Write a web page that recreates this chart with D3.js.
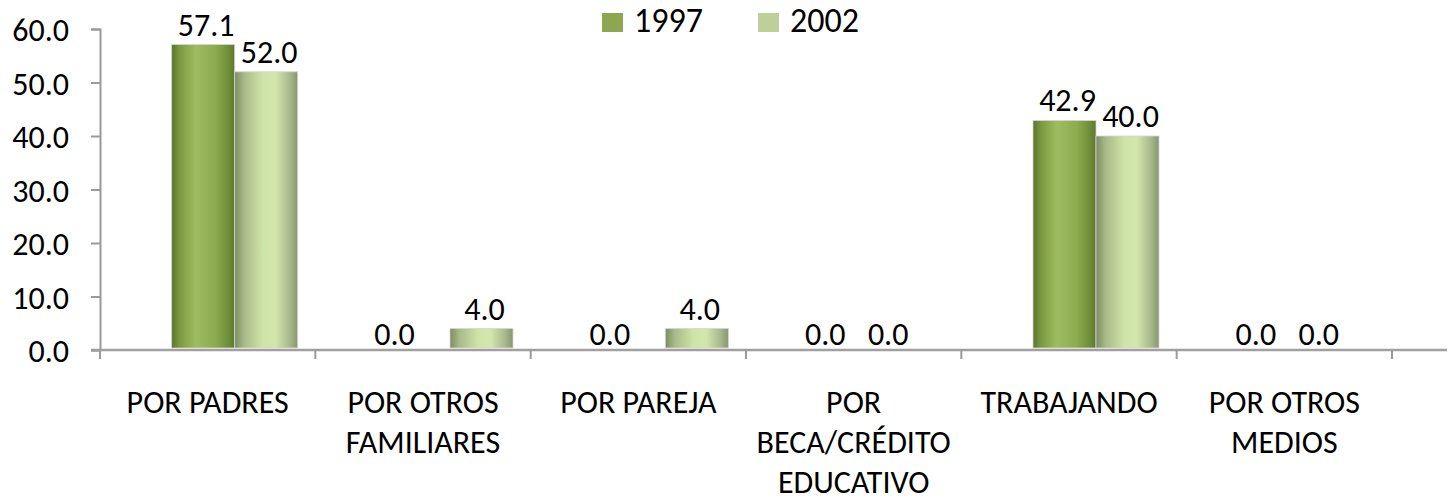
<!DOCTYPE html>
<html>
<head>
<meta charset="utf-8">
<script src="https://cdn.jsdelivr.net/npm/d3@7"></script>
<style>
    body { margin: 0; background: #fff; }
    text { font-family: Carlito, Calibri, Lato, sans-serif; fill: #000; }
</style>
</head>
<body>
<figure id="chart" style="margin:0"></figure>
<script>
// data
var categories = ["POR PADRES", "POR OTROS FAMILIARES", "POR PAREJA",
    "POR BECA/CRÉDITO EDUCATIVO", "TRABAJANDO", "POR OTROS MEDIOS"];
var series = ["1997", "2002"];
var values1997 = [57.1, 0.0, 0.0, 0.0, 42.9, 0.0];
var values2002 = [52.0, 4.0, 4.0, 0.0, 40.0, 0.0];
var yTicks = [0, 10, 20, 30, 40, 50, 60];

let dimensions = {
    width: 1450,
    height: 502,
    margin: { top: 29, right: 58, bottom: 152, left: 100 },
};
dimensions.boundedWidth = dimensions.width - dimensions.margin.left - dimensions.margin.right;
dimensions.boundedHeight = dimensions.height - dimensions.margin.top - dimensions.margin.bottom;

var fontSize = "32px";

var svg = d3.select("figure#chart")
    .append("svg")
    .attr("width", dimensions.width)
    .attr("height", dimensions.height);

var defs = svg.append("defs");
var gradStops = {
    "1997": [["0%", "#5a752a"], ["12%", "#7a9840"], ["38%", "#9fbc60"], ["70%", "#8cab4e"], ["92%", "#6c8a34"], ["100%", "#5d772e"]],
    "2002": [["0%", "#7c8d62"], ["15%", "#a8ba88"], ["45%", "#cfe4a8"], ["65%", "#d2e6ad"], ["88%", "#a6b78a"], ["100%", "#87956c"]]
};
series.forEach(function(s) {
    var g = defs.append("linearGradient")
        .attr("id", "grad" + s)
        .attr("x1", "0%").attr("x2", "100%").attr("y1", "0%").attr("y2", "0%");
    gradStops[s].forEach(function(st) {
        g.append("stop").attr("offset", st[0]).attr("stop-color", st[1]);
    });
});

var legendColor = { "1997": "#8da650", "2002": "#bdd09a" };

var xScale = d3.scaleBand()
    .domain(categories)
    .range([dimensions.margin.left, dimensions.margin.left + 1292])
    .padding(0);

// bars sit a bit right of the category centre (3d floor)
var groupWidth = 126;
var groupShift = xScale.bandwidth() / 2 - 36;
var xSub = d3.scaleBand()
    .domain(series)
    .range([0, groupWidth]);

var yScale = d3.scaleLinear()
    .domain([0, 60])
    .range([dimensions.margin.top + dimensions.boundedHeight, dimensions.margin.top]);

var data = categories.map(function(c, i) {
    return { cat: c, vals: [
        { s: "1997", v: values1997[i] },
        { s: "2002", v: values2002[i] }
    ]};
});

// y axis
var yAxis = svg.append("g")
    .attr("class", "y axis")
    .attr("transform", `translate(${dimensions.margin.left},0)`)
    .call(d3.axisLeft(yScale).tickValues(yTicks).tickSize(9).tickPadding(22).tickFormat(d3.format(".1f")));
yAxis.select(".domain").attr("stroke", "#9a9a9a").attr("stroke-width", 2);
yAxis.selectAll(".tick line").attr("stroke", "#9a9a9a").attr("stroke-width", 2);
yAxis.selectAll("text")
    .style("font-size", fontSize)
    .attr("dy", "0.36em");

// x axis line and boundary ticks
var y0 = yScale(0);
var xAxis = svg.append("g").attr("class", "x axis");
xAxis.append("line")
    .attr("x1", dimensions.margin.left - 9)
    .attr("x2", xScale.range()[1] + 55)
    .attr("y1", y0).attr("y2", y0)
    .attr("stroke", "#a0a0a0")
    .attr("stroke-width", 2.5);
var bounds = categories.map(function(c) { return xScale(c); }).concat([xScale.range()[1]]);
xAxis.selectAll("line.bound")
    .data(bounds)
    .enter()
    .append("line")
    .attr("class", "bound")
    .attr("x1", d => d).attr("x2", d => d)
    .attr("y1", y0).attr("y2", y0 + 9)
    .attr("stroke", "#9a9a9a")
    .attr("stroke-width", 2);

// category labels, wrapped
var catLabels = xAxis.selectAll("text.cat")
    .data(categories)
    .enter()
    .append("text")
    .attr("class", "cat")
    .attr("text-anchor", "middle")
    .style("font-size", fontSize)
    .attr("x", d => xScale(d) + xScale.bandwidth() / 2)
    .attr("y", 413);

catLabels.each(function(d) {
    var el = d3.select(this);
    var words = d.split(" ");
    var lines = [];
    var line = [];
    var tspan = el.append("tspan");
    words.forEach(function(w) {
        line.push(w);
        tspan.text(line.join(" "));
        if (tspan.node().getComputedTextLength() > xScale.bandwidth() && line.length > 1) {
            line.pop();
            lines.push(line.join(" "));
            line = [w];
        }
    });
    lines.push(line.join(" "));
    tspan.remove();
    var cx = el.attr("x");
    lines.forEach(function(l, i) {
        el.append("tspan")
            .attr("x", cx)
            .attr("dy", i === 0 ? 0 : 40)
            .text(l);
    });
});

// bars
var groups = svg.selectAll("g.group")
    .data(data)
    .enter()
    .append("g")
    .attr("class", "group")
    .attr("transform", d => `translate(${xScale(d.cat) + groupShift},0)`);

groups.selectAll("rect")
    .data(d => d.vals.filter(v => v.v > 0))
    .enter()
    .append("rect")
    .attr("x", d => xSub(d.s))
    .attr("y", d => yScale(d.v))
    .attr("width", xSub.bandwidth())
    .attr("height", d => y0 - 2 - yScale(d.v))
    .attr("fill", d => "url(#grad" + d.s + ")")
    .attr("stroke", "#d4d4d4")
    .attr("stroke-width", 0.8);

// value labels
groups.selectAll("text")
    .data(d => d.vals)
    .enter()
    .append("text")
    .attr("text-anchor", "middle")
    .style("font-size", fontSize)
    .attr("x", d => xSub(d.s) + xSub.bandwidth() / 2 + (d.v === 0 ? -24 : 3))
    .attr("y", d => d.v === 0 ? y0 - 5 : yScale(d.v) - 9)
    .text(d => d3.format(".1f")(d.v));

// legend
var legend = svg.append("g")
    .attr("class", "legend")
    .attr("transform", "translate(602,0)");
var legendItems = legend.selectAll("g")
    .data(series)
    .enter()
    .append("g")
    .attr("transform", (d, i) => `translate(${i * 156},0)`);
legendItems.append("rect")
    .attr("x", 0).attr("y", 13)
    .attr("width", 21).attr("height", 19)
    .attr("fill", d => legendColor[d]);
legendItems.append("text")
    .attr("x", 32).attr("y", 32)
    .style("font-size", "34px")
    .text(d => d);
</script>
</body>
</html>
